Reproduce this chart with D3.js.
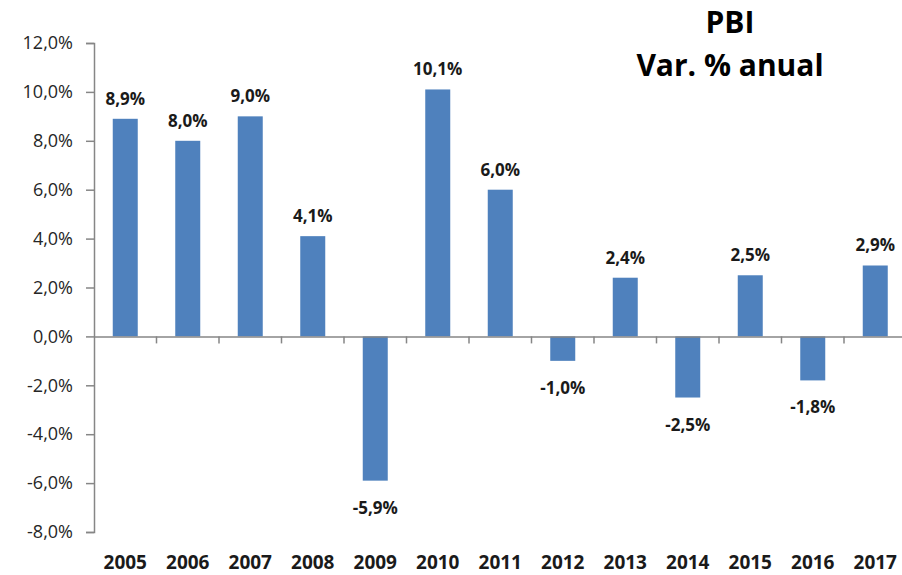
<!DOCTYPE html>
<html lang="es">
<head>
<meta charset="UTF-8">
<title>PBI Var. % anual</title>
<script src="https://d3js.org/d3.v7.min.js"></script>
<style>
  body { margin: 0; background: #fff; font-family: "Open Sans", Arial, sans-serif; }
  svg { display: block; }
</style>
</head>
<body>
<div id="chart"></div>
<script>
const years = ["2005","2006","2007","2008","2009","2010","2011","2012","2013","2014","2015","2016","2017"];
const pbiVar = [8.9, 8.0, 9.0, 4.1, -5.9, 10.1, 6.0, -1.0, 2.4, -2.5, 2.5, -1.8, 2.9];
const yTicks = [-8, -6, -4, -2, 0, 2, 4, 6, 8, 10, 12];
const titleLines = ["PBI", "Var. % anual"];

const W = 902, H = 575;
const plotLeft = 94, plotTop = 43, plotBottom = 532;
const band = 62.5;

// excel-style: comma decimal, plain hyphen for negatives
const fmt = v => d3.format(".1f")(v).replace(".", ",").replace("\u2212", "-") + "%";

const svg = d3.select("#chart").append("svg")
  .attr("width", W).attr("height", H);

const x = d3.scaleBand().domain(years)
  .range([plotLeft, plotLeft + band * years.length])
  .paddingInner(0.6).paddingOuter(0.3);
const y = d3.scaleLinear().domain([-8, 12]).range([plotBottom, plotTop]);

// bars
svg.append("g").selectAll("rect")
  .data(years.map((yr, i) => ({ yr, v: pbiVar[i] })))
  .join("rect")
  .attr("x", d => x(d.yr))
  .attr("width", x.bandwidth())
  .attr("y", d => y(Math.max(0, d.v)))
  .attr("height", d => Math.abs(y(d.v) - y(0)))
  .attr("fill", "#4F81BD");

// y axis
const yAxis = svg.append("g")
  .attr("transform", `translate(${plotLeft},0)`)
  .call(d3.axisLeft(y).tickValues(yTicks).tickSize(8).tickPadding(13)
    .tickFormat(fmt));
yAxis.select(".domain").attr("stroke", "#868686").attr("stroke-width", 1.5);
yAxis.selectAll(".tick line").attr("stroke", "#868686").attr("stroke-width", 1.5);
yAxis.selectAll(".tick text")
  .attr("font-family", "Open Sans, Arial, sans-serif")
  .attr("font-size", 18).attr("fill", "#262626");

// x axis along zero
const xAxis = svg.append("g")
  .attr("transform", `translate(0,${y(0)})`)
  .call(d3.axisBottom(x).tickSize(0).tickFormat(""));
xAxis.select(".domain").attr("stroke", "#868686").attr("stroke-width", 1.5);
xAxis.selectAll(".tick").remove();
xAxis.selectAll(".sep")
  .data(years.slice(1))
  .join("line")
  .attr("x1", d => x(d) - x.step() * x.paddingInner() / 2)
  .attr("x2", d => x(d) - x.step() * x.paddingInner() / 2)
  .attr("y1", 0).attr("y2", 7)
  .attr("stroke", "#868686").attr("stroke-width", 1.5);

// year labels
svg.append("g").selectAll("text")
  .data(years)
  .join("text")
  .attr("x", d => x(d) + x.bandwidth() / 2)
  .attr("y", 569)
  .attr("text-anchor", "middle")
  .attr("font-size", 19).attr("font-weight", "bold").attr("fill", "#1a1a1a")
  .text(d => d);

// value labels
svg.append("g").selectAll("text")
  .data(years.map((yr, i) => ({ yr, v: pbiVar[i] })))
  .join("text")
  .attr("x", d => x(d.yr) + x.bandwidth() / 2)
  .attr("y", d => d.v >= 0 ? y(d.v) - 14 : y(d.v) + 33)
  .attr("text-anchor", "middle")
  .attr("font-size", 17).attr("font-weight", "bold").attr("fill", "#1a1a1a")
  .text(d => fmt(d.v));

// title
svg.append("g").selectAll("text")
  .data(titleLines)
  .join("text")
  .attr("x", 730)
  .attr("y", (d, i) => 33 + i * 43)
  .attr("text-anchor", "middle")
  .attr("font-size", 30).attr("font-weight", "bold").attr("fill", "#000")
  .text(d => d);
</script>
</body>
</html>
